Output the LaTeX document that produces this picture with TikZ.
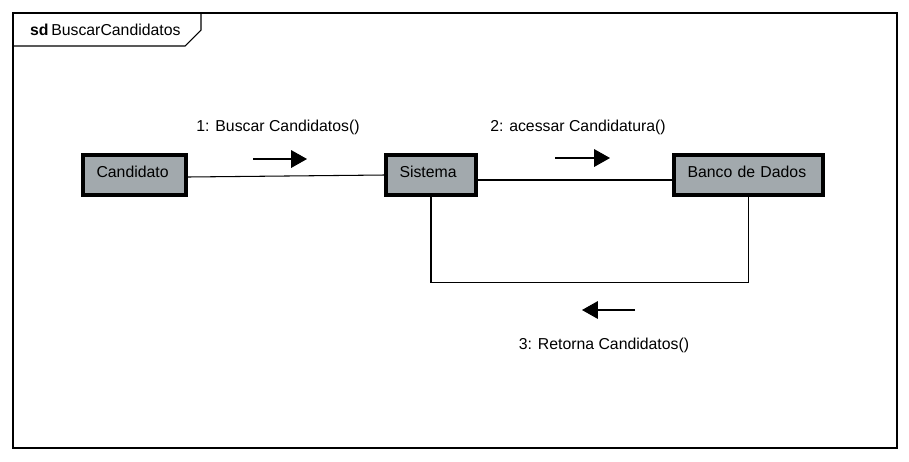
\documentclass[tikz,border=0pt]{standalone}
\usepackage{fontspec}
\setmainfont{Liberation Sans}
\usepackage{tikz}
\usetikzlibrary{arrows.meta}
\definecolor{objfill}{HTML}{A2A9AD}
\definecolor{framecol}{HTML}{000000}
\tikzset{
  objbox/.style={draw=black, line width=1.8pt, fill=objfill, minimum height=0.8cm,
    inner xsep=0.27cm, inner ysep=0pt, align=left, text height=0.72em, text depth=0.22em+0.07cm,
    font=\fontsize{9}{10}\selectfont},
  link/.style={draw=black, line width=0.6pt},
  msgarrow/.style={line width=0.6pt, -{Triangle[length=9pt, width=10pt]}},
  msglab/.style={font=\fontsize{9}{10}\selectfont}
}
\begin{document}
\begin{tikzpicture}[x=0.02cm, y=-0.02cm]
  \useasboundingbox (0,0) rectangle (909,461);

  % frame and its tab
  \draw[framecol, line width=0.6pt] (13,13) rectangle (897,448);
  \draw[framecol, line width=0.6pt] (13,46) -- (185,46) -- (201,30) -- (201,13);
  \node[msglab, anchor=west] (title) at (24,30) {\textbf{sd}\,BuscarCandidatos};

  % objects
  \node[objbox, text width=2.06cm-0.54cm] (cand) at (134.5,175) {Candidato};
  \node[objbox, text width=1.80cm-0.54cm] (sis) at (431,175) {Sistema};
  \node[objbox, text width=2.98cm-0.54cm] (ban) at (748.5,175) {Banco de Dados};

  % links
  \draw[link] ([yshift=-0.04cm]cand.east) -- (sis.west);
  \draw[link] ([yshift=-0.1cm]sis.east) -- ([yshift=-0.1cm]ban.west);
  \draw[link] (sis.south) -- ++(0,86) -| (ban.south);

  % messages
  \coordinate (m1a) at (253,159);
  \coordinate (m1b) at (307,159);
  \draw[msgarrow] (m1a) -- (m1b);
  \node[msglab] (m1) at (278,127) {1: Buscar Candidatos()};

  \coordinate (m2a) at (555,158);
  \coordinate (m2b) at (610,158);
  \draw[msgarrow] (m2a) -- (m2b);
  \node[msglab] (m2) at (578,127) {2: acessar Candidatura()};

  \coordinate (m3a) at (635,310);
  \coordinate (m3b) at (582,310);
  \draw[msgarrow] (m3a) -- (m3b);
  \node[msglab] (m3) at (604,345) {3: Retorna Candidatos()};
\end{tikzpicture}
\end{document}
